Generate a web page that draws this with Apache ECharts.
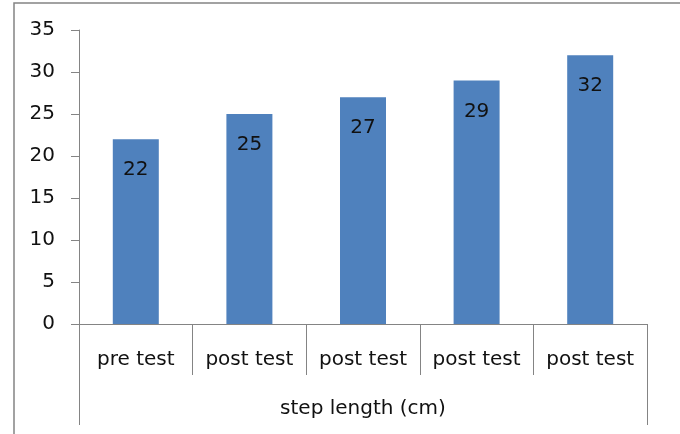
<!DOCTYPE html>
<html>
<head>
<meta charset="utf-8">
<script src="https://cdn.jsdelivr.net/npm/echarts@6/dist/echarts.min.js"></script>
<style>
  html, body { margin: 0; padding: 0; background: #fff; }
  #chart { width: 680px; height: 434px; }
</style>
</head>
<body>
<div id="chart"></div>
<script>
// Step length measured at the pre test and at each of the post tests
const categories = ['pre test', 'post test', 'post test', 'post test', 'post test'];
const stepLength = [22, 25, 27, 29, 32];
const groupTitle = ['step length (cm)'];
const yTicks = { min: 0, max: 35, interval: 5 };

const axisGray = '#848484';
const textColor = '#111';
const textFont = 'DejaVu Sans';

const chart = echarts.init(document.getElementById('chart'), null, { renderer: 'canvas' });

chart.setOption({
  animation: false,
  backgroundColor: '#ffffff',
  grid: { left: 79, right: 33, top: 30, bottom: 110, containLabel: false },
  graphic: [{
    type: 'rect',
    shape: { x: 14, y: 3, width: 800, height: 600 },
    style: { fill: 'none', stroke: axisGray, lineWidth: 1.5 },
    silent: true
  }],
  xAxis: [
    {
      type: 'category',
      data: categories,
      position: 'bottom',
      boundaryGap: true,
      axisLine: { show: true, lineStyle: { color: axisGray, width: 1 } },
      axisTick: { show: true, interval: 0, length: 51, lineStyle: { color: axisGray, width: 1 } },
      axisLabel: { interval: 0, margin: 26, color: textColor, fontFamily: textFont, fontSize: 20 },
      splitLine: { show: false }
    },
    {
      // outer bracket with the group title underneath the category row
      type: 'category',
      data: groupTitle,
      position: 'bottom',
      boundaryGap: true,
      axisLine: { show: false },
      axisTick: { show: true, interval: 0, length: 101, lineStyle: { color: axisGray, width: 1 } },
      axisLabel: { interval: 0, margin: 75, color: textColor, fontFamily: textFont, fontSize: 20 },
      splitLine: { show: false }
    }
  ],
  yAxis: {
    type: 'value',
    min: yTicks.min,
    max: yTicks.max,
    interval: yTicks.interval,
    axisLine: { show: true, lineStyle: { color: axisGray, width: 1 } },
    axisTick: { show: true, length: 8, lineStyle: { color: axisGray, width: 1 } },
    axisLabel: { margin: 24, color: textColor, fontFamily: textFont, fontSize: 20 },
    splitLine: { show: false }
  },
  series: [{
    type: 'bar',
    xAxisIndex: 0,
    data: stepLength,
    barWidth: 46,
    itemStyle: { color: '#4f81bd' },
    label: {
      show: true,
      position: 'insideTop',
      distance: 21,
      color: textColor,
      fontFamily: textFont,
      fontSize: 20
    }
  }]
});
</script>
</body>
</html>
